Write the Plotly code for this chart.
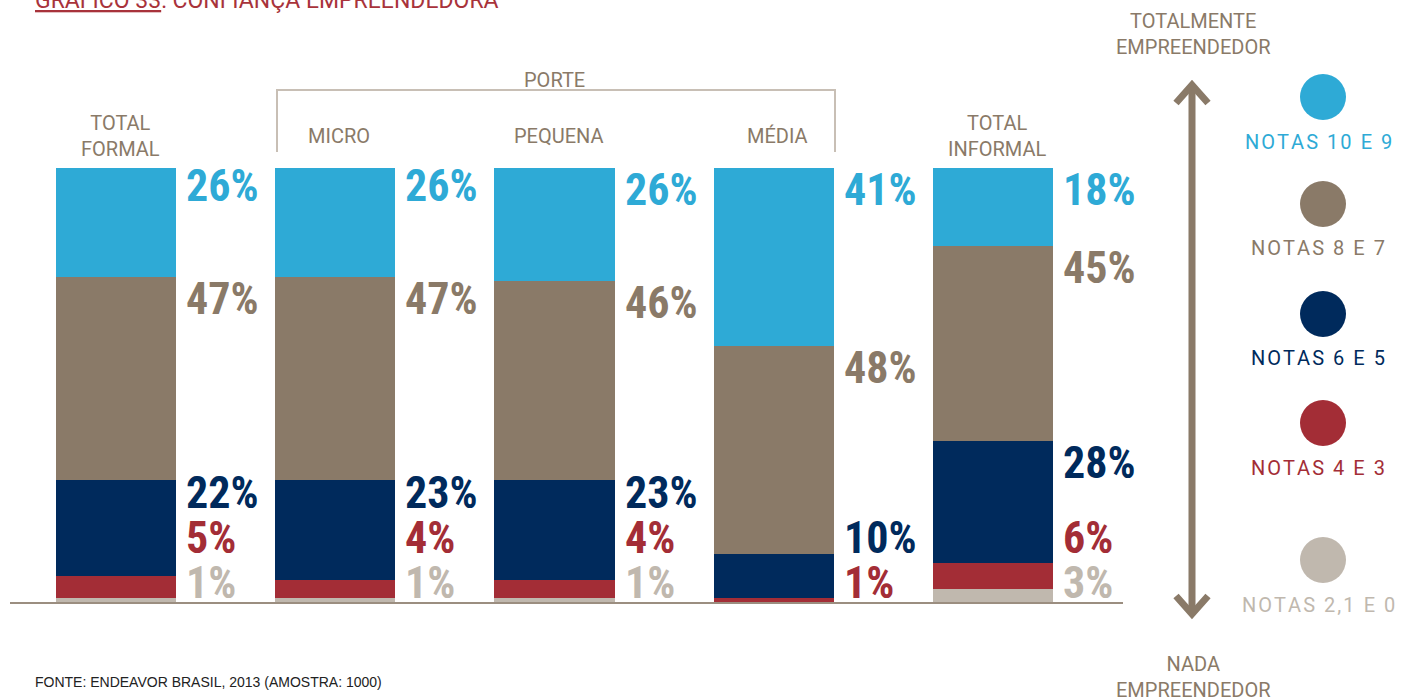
import plotly.graph_objects as go

# data (in %)
groups = ["TOTAL<br>FORMAL", "MICRO", "PEQUENA", "MÉDIA", "TOTAL<br>INFORMAL"]
notas_10_9 = [26, 26, 26, 41, 18]
notas_8_7 = [47, 47, 46, 48, 45]
notas_6_5 = [22, 23, 23, 10, 28]
notas_4_3 = [5, 4, 4, 1, 6]
notas_2_0 = [1, 1, 1, 0, 3]

legend_names = ["NOTAS 10 E 9", "NOTAS 8 E 7", "NOTAS 6 E 5", "NOTAS 4 E 3", "NOTAS 2,1 E 0"]
colors = ["#2eaad6", "#8a7a68", "#002a5c", "#a32d36", "#c0b8ae"]
brown = "#8a7a68"

W, H = 1403, 697
ML, MR, MT, MB = 10, 280, 168, 95
BAR_W = 0.548

# pixel helpers for decorations outside the plot area
def px_x(p):
    return (p - ML) / (W - ML - MR)

def px_y(p):
    return (H - MB - p) / (H - MT - MB)

x = list(range(len(groups)))
# stacked bottom-to-top
series = [notas_2_0, notas_4_3, notas_6_5, notas_8_7, notas_10_9]
series_colors = colors[::-1]
series_names = legend_names[::-1]

fig = go.Figure()
for vals, col, name in zip(series, series_colors, series_names):
    fig.add_trace(go.Bar(x=x, y=vals, marker_color=col, marker_line_width=0,
                         width=BAR_W, name=name, hoverinfo="y+name"))

# value labels right of the bars, pushed apart from the bottom up
unit_px = (H - MT - MB) / 100.0
pct_font = "Roboto Condensed, Liberation Sans Narrow, Roboto, sans-serif"
annotations = []
for i in x:
    bottom = 0
    prev = None
    for vals, col in zip(series, series_colors):
        v = vals[i]
        top = bottom + v
        bottom = top
        if v == 0:
            continue
        c = top - 22 / unit_px
        c = max(c, 19 / unit_px)
        if prev is not None:
            c = max(c, prev + 45 / unit_px)
        prev = c
        annotations.append(dict(x=i + BAR_W / 2 + 8 / 219.25, y=c, xref="x", yref="y",
                                text="<b>%d%%</b>" % v, showarrow=False,
                                xanchor="left", yanchor="middle",
                                font=dict(family=pct_font, size=44, color=col)))

# group headers
for i, g in enumerate(groups):
    annotations.append(dict(x=i + 4 / 219.25, y=px_y(136), xref="x", yref="paper", text=g,
                            showarrow=False, xanchor="center", yanchor="middle",
                            font=dict(family="Roboto, sans-serif", size=20, color=brown)))
annotations.append(dict(x=2, y=px_y(66), xref="x", yref="paper", text="PORTE",
                        showarrow=False, font=dict(family="Roboto, sans-serif", size=20, color=brown)))

# title, source, arrow labels
annotations += [
    dict(x=px_x(33), y=px_y(0), xref="paper", yref="paper", xanchor="left", yanchor="middle",
         text="<u>GRÁFICO 33</u>: CONFIANÇA EMPREENDEDORA", showarrow=False,
         font=dict(family="Roboto, sans-serif", size=23, color="#a8333b")),
    dict(x=px_x(33), y=px_y(682), xref="paper", yref="paper", xanchor="left", yanchor="middle",
         text="FONTE: ENDEAVOR BRASIL, 2013 (AMOSTRA: 1000)", showarrow=False,
         font=dict(family="Liberation Sans, sans-serif", size=14, color="#222222")),
    dict(x=px_x(1193), y=px_y(34), xref="paper", yref="paper", xanchor="center", yanchor="middle",
         text="TOTALMENTE<br>EMPREENDEDOR", showarrow=False,
         font=dict(family="Roboto, sans-serif", size=20, color=brown)),
    dict(x=px_x(1193), y=px_y(677), xref="paper", yref="paper", xanchor="center", yanchor="middle",
         text="NADA<br>EMPREENDEDOR", showarrow=False,
         font=dict(family="Roboto, sans-serif", size=20, color=brown)),
]

# legend circles and labels on the right
legend_dot_y = [97, 204, 314, 423, 560]
legend_text_y = [142, 248, 358, 468, 605]
shapes = []
for name, col, dy, ty in zip(legend_names, colors, legend_dot_y, legend_text_y):
    shapes.append(dict(type="circle", xref="paper", yref="paper",
                       x0=px_x(1323 - 23), x1=px_x(1323 + 23),
                       y0=px_y(dy + 23), y1=px_y(dy - 23),
                       fillcolor=col, line_width=0))
    annotations.append(dict(x=px_x(1318), y=px_y(ty), xref="paper", yref="paper",
                            text="\u200a".join(name), showarrow=False,
                            xanchor="center", yanchor="middle",
                            font=dict(family="Roboto, sans-serif", size=20, color=col)))

# PORTE bracket
shapes.append(dict(type="path", xref="paper", yref="paper",
                   path="M %f %f L %f %f L %f %f L %f %f" % (
                       px_x(277), px_y(152), px_x(277), px_y(90),
                       px_x(835), px_y(90), px_x(835), px_y(152)),
                   line=dict(color="#c8bfb5", width=2)))

# double arrow
ax = px_x(1192)
shapes.append(dict(type="path", xref="paper", yref="paper",
                   path="M %f %f L %f %f" % (ax, px_y(86), ax, px_y(612)),
                   line=dict(color=brown, width=7)))
shapes.append(dict(type="path", xref="paper", yref="paper",
                   path="M %f %f L %f %f L %f %f" % (
                       px_x(1176), px_y(103), ax, px_y(85), px_x(1208), px_y(103)),
                   line=dict(color=brown, width=7)))
shapes.append(dict(type="path", xref="paper", yref="paper",
                   path="M %f %f L %f %f L %f %f" % (
                       px_x(1176), px_y(596), ax, px_y(614), px_x(1208), px_y(596)),
                   line=dict(color=brown, width=7)))

fig.update_layout(
    width=W, height=H,
    margin=dict(l=ML, r=MR, t=MT, b=MB),
    barmode="stack", bargap=0,
    showlegend=False,
    plot_bgcolor="white", paper_bgcolor="white",
    annotations=annotations, shapes=shapes,
)
fig.update_xaxes(range=[(ML - 116) / 219.25, (W - MR - 116) / 219.25],
                 showgrid=False, zeroline=False, showticklabels=False, ticks="",
                 showline=True, linecolor="#9b8e80", linewidth=2)
fig.update_yaxes(range=[0, 100], visible=False)

# the page has a default 8px body margin; drop it so the figure sits at 0,0
fig.write_html("out.html", config={"displayModeBar": False},
               post_script="document.body.style.margin='0px';")
